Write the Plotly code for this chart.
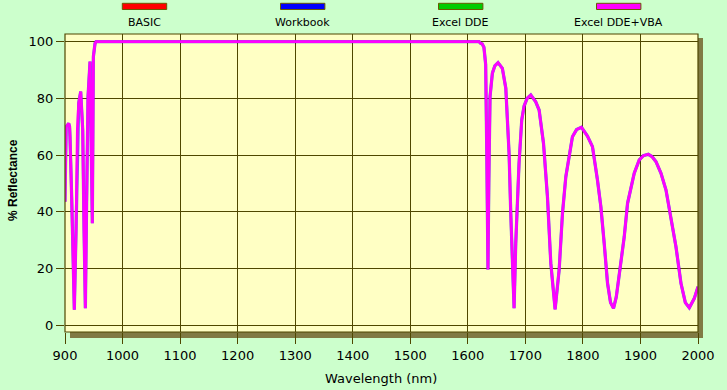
import plotly.graph_objects as go

# ---------------- data ----------------
series_names = ["BASIC", "Workbook", "Excel DDE", "Excel DDE+VBA"]
series_colors = ["#ff0000", "#0000ff", "#00cc00", "#ff00ff"]

wavelength = [900, 902, 904, 906.4, 908, 908.7, 911.6, 914.5, 916.2, 918.6, 919.2, 921.5, 923.8,
              927.3, 930.8, 933.1, 935.4, 937.7, 940, 943.5, 947.5, 949.3, 952.2, 954,
              1619.5, 1622.4, 1625, 1628, 1631, 1633, 1635, 1636.5, 1638.6, 1642.7, 1647,
              1652.5, 1660, 1666, 1671.7, 1674.6, 1677.5, 1680.4, 1683.3, 1689, 1693.7,
              1697.8, 1703, 1709.4, 1718, 1723.9, 1731.5, 1738.4, 1744.2, 1751.7, 1758.7,
              1764.5, 1770.3, 1776, 1781.8, 1789, 1797.5, 1807.9, 1816.6, 1825.3, 1831.2,
              1837, 1842.8, 1848, 1853.2, 1858, 1863.1, 1871.8, 1877.6, 1883, 1889.2,
              1897.9, 1905, 1913.6, 1920, 1927, 1935.7, 1944.4, 1953.1, 1961.7, 1970.4,
              1978, 1984.9, 1993.6, 2000]
reflectance = [43.6, 70, 70.5, 71.2, 70, 66.5, 45, 20.7, 5.5, 27.7, 33.6, 68.9, 78.3,
               82.4, 68.9, 33.6, 6, 45.3, 80.6, 93, 36, 94.7, 99.4, 100,
               100, 99.4, 99.2, 98, 92, 60, 19.7, 50, 80.6, 88.9, 91.5,
               92.6, 90.6, 83.6, 60.6, 39.6, 20, 6, 28.9, 57, 72.4,
               77.3, 80, 81.2, 78.8, 75.9, 64.2, 45.3, 21.9, 5.6, 19.5,
               39.5, 52.4, 59.4, 66.5, 69, 69.8, 66.7, 63, 51.2, 41.8,
               28.9, 14.8, 8, 6, 10, 18.3, 31.2, 43, 48.5, 53.6,
               58.3, 59.8, 60.3, 59.5, 57.7, 53.6, 47.7, 38.3, 27.7, 14.8,
               8, 6.2, 9.5, 13.6]

x_ticks = [900, 1000, 1100, 1200, 1300, 1400, 1500, 1600, 1700, 1800, 1900, 2000]
y_ticks = [0, 20, 40, 60, 80, 100]

# ---------------- layout geometry ----------------
W, H = 727, 390
ML, MR, MT, MB = 65, 29, 34, 58
PW, PH = W - ML - MR, H - MT - MB

def px_x(p):
    return (p - ML) / PW

def px_y(p):
    return (H - MB - p) / PH

PAPER = "#ccffcc"
PLOT = "#ffffc4"
GRID = "#4f4700"
SHADOW = "#807a44"

fig = go.Figure()

# all series overlap exactly; the last one (magenta) ends up on top
for name, color in zip(series_names, series_colors):
    fig.add_trace(go.Scatter(
        x=wavelength, y=reflectance, mode="lines", name=name,
        line=dict(color=color, width=3.2 if name == "Workbook" else 2.8),
        opacity=0.0 if name in ("BASIC", "Excel DDE") else (0.6 if name == "Workbook" else 1.0),
        showlegend=False, hoverinfo="skip"))

shapes = []
# shadow and plot background
shapes.append(dict(type="rect", xref="paper", yref="paper",
                   x0=px_x(ML + 5), x1=px_x(ML + PW + 5), y0=px_y(H - MB + 6), y1=px_y(MT + 4),
                   fillcolor=SHADOW, line=dict(width=0), layer="below"))
shapes.append(dict(type="rect", xref="paper", yref="paper",
                   x0=0, x1=1, y0=0, y1=1,
                   fillcolor=PLOT, line=dict(width=0), layer="below"))
# frame
shapes.append(dict(type="rect", xref="paper", yref="paper",
                   x0=0, x1=1, y0=0, y1=1,
                   fillcolor="rgba(0,0,0,0)", line=dict(color=GRID, width=1.2), layer="above"))

annotations = []
legend_left = [122.3, 280.5, 438.5, 596.5]
for name, color, lx in zip(series_names, series_colors, legend_left):
    shapes.append(dict(type="rect", xref="paper", yref="paper",
                       x0=px_x(lx), x1=px_x(lx + 44.4), y0=px_y(9.5), y1=px_y(3.3),
                       fillcolor=color, line=dict(color="#6b5a00", width=1)))
    annotations.append(dict(xref="paper", yref="paper", x=px_x(lx + 22.2), y=px_y(22.5),
                            text=name, showarrow=False, xanchor="center", yanchor="middle",
                            font=dict(family="DejaVu Sans", size=11, color="#000000")))

annotations.append(dict(xref="paper", yref="paper", x=px_x(13), y=px_y(180),
                        text="<b>% Reflectance</b>", textangle=-90, showarrow=False,
                        xanchor="center", yanchor="middle",
                        font=dict(family="Liberation Sans", size=12, color="#000000")))
annotations.append(dict(xref="paper", yref="paper", x=px_x(381), y=px_y(378),
                        text="Wavelength (nm)", showarrow=False,
                        xanchor="center", yanchor="middle",
                        font=dict(family="DejaVu Sans", size=13, color="#000000")))

fig.update_layout(
    width=W, height=H,
    margin=dict(l=ML, r=MR, t=MT, b=MB, pad=0),
    paper_bgcolor=PAPER, plot_bgcolor="rgba(0,0,0,0)",
    showlegend=False,
    shapes=shapes, annotations=annotations,
    font=dict(family="DejaVu Sans", size=13, color="#000000"),
)
fig.update_xaxes(range=[900, 2000], tickvals=x_ticks, ticktext=[str(v) for v in x_ticks],
                 showgrid=True, gridcolor=GRID, gridwidth=1, zeroline=False,
                 ticks="outside", ticklen=11, tickcolor=GRID, tickwidth=1,
                 showline=False, tickfont=dict(family="DejaVu Sans", size=13, color="#000000"))
fig.update_yaxes(range=[-2.36, 102.7], tickvals=y_ticks, ticktext=[str(v) for v in y_ticks],
                 showgrid=True, gridcolor=GRID, gridwidth=1, zeroline=False,
                 ticks="outside", ticklen=8, tickcolor=GRID, tickwidth=1,
                 showline=False, tickfont=dict(family="DejaVu Sans", size=13, color="#000000"))

fig.write_html("out.html")
